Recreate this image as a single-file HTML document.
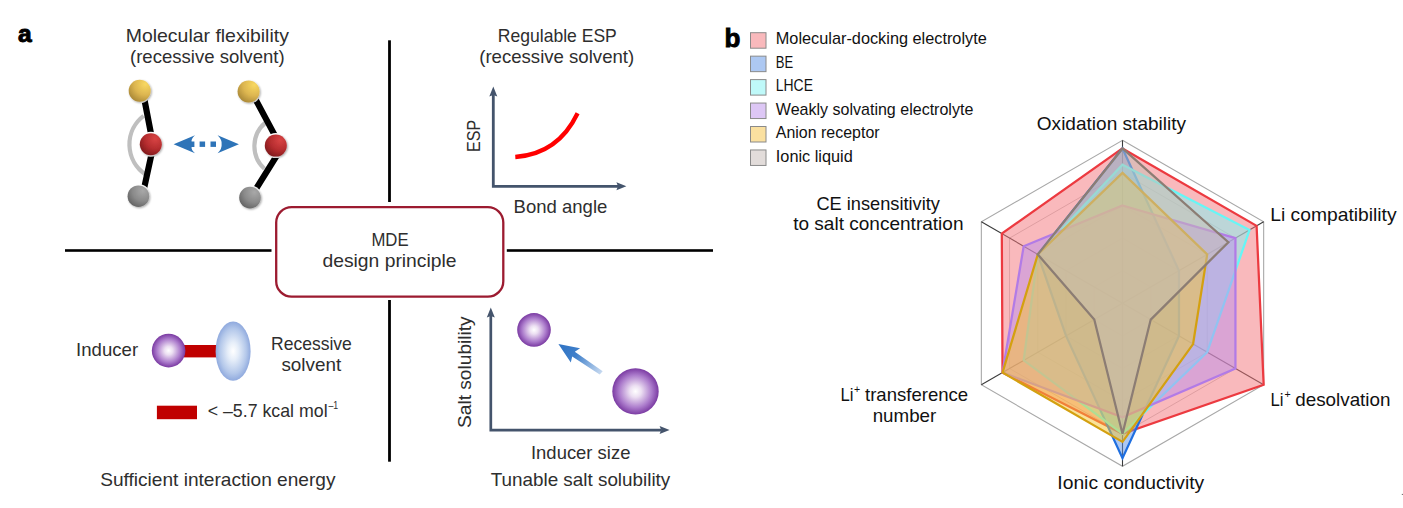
<!DOCTYPE html>
<html><head><meta charset="utf-8"><style>
html,body{margin:0;padding:0;background:#fff;}
svg{display:block;font-family:"Liberation Sans",Arial,sans-serif;}
</style></head><body>
<svg width="1403" height="508" viewBox="0 0 1403 508">
<rect width="1403" height="508" fill="#fff"/>
<defs>
<radialGradient id="gY" cx="0.75" cy="0.2" r="1.0" fx="0.75" fy="0.2"><stop offset="0" stop-color="#f8d860"/><stop offset="0.5" stop-color="#dcb550"/><stop offset="1" stop-color="#9c7c30"/></radialGradient>
<radialGradient id="gR" cx="0.7" cy="0.25" r="0.95" fx="0.7" fy="0.25"><stop offset="0" stop-color="#d84444"/><stop offset="0.5" stop-color="#b42c2e"/><stop offset="1" stop-color="#6c1416"/></radialGradient>
<radialGradient id="gG" cx="0.7" cy="0.25" r="0.95" fx="0.7" fy="0.25"><stop offset="0" stop-color="#a8a8a8"/><stop offset="0.5" stop-color="#8a8a8a"/><stop offset="1" stop-color="#555"/></radialGradient>
<radialGradient id="gP" cx="0.5" cy="0.5" r="0.5"><stop offset="0" stop-color="#ffffff"/><stop offset="0.25" stop-color="#ecdff2"/><stop offset="0.7" stop-color="#ac7ccc"/><stop offset="1" stop-color="#7a3aa2"/></radialGradient>
<radialGradient id="gB" cx="0.5" cy="0.5" r="0.5"><stop offset="0" stop-color="#ffffff"/><stop offset="0.3" stop-color="#e6eef9"/><stop offset="0.75" stop-color="#b4c8ea"/><stop offset="1" stop-color="#90aade"/></radialGradient>
<linearGradient id="gA" x1="601.2" y1="373" x2="560" y2="345" gradientUnits="userSpaceOnUse"><stop offset="0" stop-color="#c6d9f0"/><stop offset="0.62" stop-color="#3f7fca"/><stop offset="1" stop-color="#3074c4"/></linearGradient>
<filter id="sh" x="-30%" y="-30%" width="160%" height="160%"><feGaussianBlur in="SourceAlpha" stdDeviation="1.2"/><feOffset dx="0.6" dy="1"/><feComponentTransfer><feFuncA type="linear" slope="0.35"/></feComponentTransfer><feMerge><feMergeNode/><feMergeNode in="SourceGraphic"/></feMerge></filter>
</defs>
<g fill="#000">
<rect x="65" y="249.2" width="206.5" height="2.6"/>
<rect x="506.8" y="249.2" width="206.2" height="2.6"/>
<rect x="388.1" y="40.3" width="2.8" height="161.7"/>
<rect x="388.1" y="300" width="2.8" height="161.7"/>
</g>
<rect x="276.2" y="207.1" width="227.1" height="89.6" rx="15.5" ry="15.5" fill="#fff" stroke="#9c1b30" stroke-width="2.3"/>
<text x="17.9" y="42.3" font-size="24.5" fill="#000" font-weight="bold" text-anchor="start" stroke="#000" stroke-width="1">a</text>
<text x="125.7" y="42.35" font-size="18.2" fill="#2e2e2e" font-weight="normal" text-anchor="start" textLength="163.2" lengthAdjust="spacingAndGlyphs" >Molecular flexibility</text>
<text x="130.0" y="62.65" font-size="18.2" fill="#2e2e2e" font-weight="normal" text-anchor="start" textLength="154.6" lengthAdjust="spacingAndGlyphs" >(recessive solvent)</text>
<text x="497.8" y="42.35" font-size="18.2" fill="#2e2e2e" font-weight="normal" text-anchor="start" textLength="119" lengthAdjust="spacingAndGlyphs" >Regulable ESP</text>
<text x="479.2" y="62.65" font-size="18.2" fill="#2e2e2e" font-weight="normal" text-anchor="start" textLength="155" lengthAdjust="spacingAndGlyphs" >(recessive solvent)</text>
<path d="M143.6,115.8 A36 36 0 0 0 145.2,174.2" fill="none" stroke="#bfbfbf" stroke-width="4.2"/>
<path d="M142.7,90.7 L153,144.2 M153.7,144.2 L142.4,196.2" fill="none" stroke="#000" stroke-width="6.2"/>
<circle cx="139.7" cy="90.7" r="12.5" fill="#fff"/>
<circle cx="139.7" cy="90.7" r="11" fill="url(#gY)" filter="url(#sh)"/>
<circle cx="150.8" cy="144.2" r="12.5" fill="#fff"/>
<circle cx="150.8" cy="144.2" r="11" fill="url(#gR)" filter="url(#sh)"/>
<circle cx="138.4" cy="196.2" r="12.3" fill="#fff"/>
<circle cx="138.4" cy="196.2" r="10.8" fill="url(#gG)" filter="url(#sh)"/>
<path d="M265.6,122.5 A30.5 30.5 0 0 0 264.4,168.7" fill="none" stroke="#bfbfbf" stroke-width="4.2"/>
<path d="M251.3,91.5 L280.3,145.6 M283,145.6 L250.6,197.6" fill="none" stroke="#000" stroke-width="6.2"/>
<circle cx="248.6" cy="91.5" r="12.5" fill="#fff"/>
<circle cx="248.6" cy="91.5" r="11" fill="url(#gY)" filter="url(#sh)"/>
<circle cx="275.8" cy="145.6" r="12.5" fill="#fff"/>
<circle cx="275.8" cy="145.6" r="11" fill="url(#gR)" filter="url(#sh)"/>
<circle cx="250" cy="197.6" r="12.3" fill="#fff"/>
<circle cx="250" cy="197.6" r="10.8" fill="url(#gG)" filter="url(#sh)"/>
<g fill="#2e74b8">
<path d="M173.6,144.2 L195,135.2 Q191,139 191.6,141.5 L194.4,141.5 L194.4,146.9 L191.6,146.9 Q191,149.5 195,153.2 Z"/>
<rect x="199.6" y="141.5" width="5.5" height="5.4"/><rect x="210.5" y="141.5" width="5.5" height="5.4"/>
<path d="M238.9,144.2 L217.6,135.2 Q222.3,140 221.6,144.2 Q222.3,148.4 217.6,153.2 Z"/>
</g>
<path d="M493.3,95 L493.3,186.3 L618,186.3" fill="none" stroke="#44546c" stroke-width="2.8"/>
<path d="M493.3,86.5 L497.3,96.5 L493.3,95 L489.3,96.5 Z" fill="#44546c"/>
<path d="M626.4,186.3 L616.4,182.3 L618,186.3 L616.4,190.3 Z" fill="#44546c"/>
<path d="M515.3,157 Q558,154.1 577.6,113.3" fill="none" stroke="#f00" stroke-width="4.3"/>
<text x="0" y="0" font-size="18.2" fill="#2e2e2e" font-weight="normal" text-anchor="start" textLength="32" lengthAdjust="spacingAndGlyphs" transform="translate(479.7,151.9) rotate(-90)">ESP</text>
<text x="513.6" y="212.65" font-size="18.2" fill="#2e2e2e" font-weight="normal" text-anchor="start" textLength="93.7" lengthAdjust="spacingAndGlyphs" >Bond angle</text>
<text x="390" y="245.85" font-size="18.2" fill="#2e2e2e" font-weight="normal" text-anchor="middle" textLength="37.2" lengthAdjust="spacingAndGlyphs" >MDE</text>
<text x="322.5" y="267.45" font-size="18.2" fill="#2e2e2e" font-weight="normal" text-anchor="start" textLength="134" lengthAdjust="spacingAndGlyphs" >design principle</text>
<text x="76.1" y="356.35" font-size="18.2" fill="#2e2e2e" font-weight="normal" text-anchor="start" textLength="62" lengthAdjust="spacingAndGlyphs" >Inducer</text>
<rect x="184" y="345" width="33" height="12.4" fill="#c00000"/>
<circle cx="168.6" cy="350.6" r="16.8" fill="url(#gP)"/>
<ellipse cx="233.1" cy="351.2" rx="17.5" ry="29.6" fill="url(#gB)"/>
<text x="271" y="350.05" font-size="18.2" fill="#2e2e2e" font-weight="normal" text-anchor="start" textLength="80.8" lengthAdjust="spacingAndGlyphs" >Recessive</text>
<text x="281.4" y="370.55" font-size="18.2" fill="#2e2e2e" font-weight="normal" text-anchor="start" textLength="59.8" lengthAdjust="spacingAndGlyphs" >solvent</text>
<rect x="156.9" y="405.7" width="40.1" height="13.5" fill="#c00000"/>
<text x="207.7" y="417.25" font-size="18.2" fill="#2e2e2e" font-weight="normal" text-anchor="start" textLength="119.9" lengthAdjust="spacingAndGlyphs" >&lt; –5.7 kcal mol</text>
<text x="328.4" y="409.4" font-size="11" fill="#2e2e2e" font-weight="normal" text-anchor="start" textLength="9.8" lengthAdjust="spacingAndGlyphs" >–1</text>
<text x="100.2" y="485.85" font-size="18.2" fill="#2e2e2e" font-weight="normal" text-anchor="start" textLength="235.3" lengthAdjust="spacingAndGlyphs" >Sufficient interaction energy</text>
<path d="M490.8,316 L490.8,430.1 L661,430.1" fill="none" stroke="#44546c" stroke-width="2.7"/>
<path d="M490.8,307.5 L494.8,317.5 L490.8,316 L486.8,317.5 Z" fill="#44546c"/>
<path d="M669.6,430.1 L659.6,426.1 L661.2,430.1 L659.6,434.1 Z" fill="#44546c"/>
<text x="0" y="0" font-size="18.2" fill="#2e2e2e" font-weight="normal" text-anchor="start" textLength="111.7" lengthAdjust="spacingAndGlyphs" transform="translate(471.1,428) rotate(-90)">Salt solubility</text>
<circle cx="534" cy="329.9" r="16.8" fill="url(#gP)"/>
<circle cx="635.5" cy="391.4" r="23.2" fill="url(#gP)"/>
<path d="M558.4,343.9 L580.1,348.3 L574.8,351.7 L602.7,371.2 L599.7,374.6 L572.2,356.6 L570.8,362.5 Z" fill="url(#gA)"/>
<text x="531" y="458.85" font-size="18.2" fill="#2e2e2e" font-weight="normal" text-anchor="start" textLength="99.4" lengthAdjust="spacingAndGlyphs" >Inducer size</text>
<text x="490.7" y="485.85" font-size="18.2" fill="#2e2e2e" font-weight="normal" text-anchor="start" textLength="179.6" lengthAdjust="spacingAndGlyphs" >Tunable salt solubility</text>
<rect x="1401.8" y="493.9" width="1.2" height="1.1" fill="#777"/>
<text x="724.4" y="46.9" font-size="26" fill="#000" font-weight="bold" text-anchor="start" stroke="#000" stroke-width="0.9">b</text>
<rect x="750.5" y="32.70" width="15.5" height="15.5" fill="#f9b9bc" stroke="#8a8a8a" stroke-width="1"/>
<text x="775.8" y="44.3" font-size="16.2" fill="#111" font-weight="normal" text-anchor="start" textLength="211" lengthAdjust="spacingAndGlyphs" >Molecular-docking electrolyte</text>
<rect x="750.5" y="56.15" width="15.5" height="15.5" fill="#adc8f2" stroke="#8a8a8a" stroke-width="1"/>
<text x="775.8" y="67.75" font-size="16.2" fill="#111" font-weight="normal" text-anchor="start" textLength="17.4" lengthAdjust="spacingAndGlyphs" >BE</text>
<rect x="750.5" y="79.60" width="15.5" height="15.5" fill="#bff9f9" stroke="#8a8a8a" stroke-width="1"/>
<text x="775.8" y="91.2" font-size="16.2" fill="#111" font-weight="normal" text-anchor="start" textLength="37.2" lengthAdjust="spacingAndGlyphs" >LHCE</text>
<rect x="750.5" y="103.05" width="15.5" height="15.5" fill="#ddc7f5" stroke="#8a8a8a" stroke-width="1"/>
<text x="775.8" y="114.65" font-size="16.2" fill="#111" font-weight="normal" text-anchor="start" textLength="197.5" lengthAdjust="spacingAndGlyphs" >Weakly solvating electrolyte</text>
<rect x="750.5" y="126.50" width="15.5" height="15.5" fill="#fae0a0" stroke="#8a8a8a" stroke-width="1"/>
<text x="775.8" y="138.1" font-size="16.2" fill="#111" font-weight="normal" text-anchor="start" textLength="103.8" lengthAdjust="spacingAndGlyphs" >Anion receptor</text>
<rect x="750.5" y="149.95" width="15.5" height="15.5" fill="#e2dcda" stroke="#8a8a8a" stroke-width="1"/>
<text x="775.8" y="161.55" font-size="16.2" fill="#111" font-weight="normal" text-anchor="start" textLength="77" lengthAdjust="spacingAndGlyphs" >Ionic liquid</text>
<polygon points="1122.50,270.70 1150.73,287.00 1150.73,319.60 1122.50,335.90 1094.27,319.60 1094.27,287.00" fill="none" stroke="#c9c9c9" stroke-width="1"/>
<polygon points="1122.50,238.10 1178.96,270.70 1178.96,335.90 1122.50,368.50 1066.04,335.90 1066.04,270.70" fill="none" stroke="#c9c9c9" stroke-width="1"/>
<polygon points="1122.50,205.50 1207.20,254.40 1207.20,352.20 1122.50,401.10 1037.80,352.20 1037.80,254.40" fill="none" stroke="#c9c9c9" stroke-width="1"/>
<polygon points="1122.50,172.90 1235.43,238.10 1235.43,368.50 1122.50,433.70 1009.57,368.50 1009.57,238.10" fill="none" stroke="#c9c9c9" stroke-width="1"/>
<polygon points="1122.50,140.30 1263.66,221.80 1263.66,384.80 1122.50,466.30 981.34,384.80 981.34,221.80" fill="none" stroke="#a8a8a8" stroke-width="1.1"/>
<line x1="1122.5" y1="303.3" x2="1122.50" y2="140.30" stroke="#3a3a3a" stroke-width="1.1"/>
<line x1="1122.5" y1="303.3" x2="1263.66" y2="221.80" stroke="#3a3a3a" stroke-width="1.1"/>
<line x1="1122.5" y1="303.3" x2="1263.66" y2="384.80" stroke="#3a3a3a" stroke-width="1.1"/>
<line x1="1122.5" y1="303.3" x2="1122.50" y2="466.30" stroke="#3a3a3a" stroke-width="1.1"/>
<line x1="1122.5" y1="303.3" x2="981.34" y2="384.80" stroke="#3a3a3a" stroke-width="1.1"/>
<line x1="1122.5" y1="303.3" x2="981.34" y2="221.80" stroke="#3a3a3a" stroke-width="1.1"/>
<polygon points="1122.50,148.45 1256.60,225.88 1263.66,384.80 1122.50,433.70 1002.51,372.57 1001.81,233.62" fill="rgb(243,115,121)" fill-opacity="0.5" stroke="#ec3a40" stroke-width="2.25" stroke-linejoin="miter"/>
<polygon points="1122.50,148.45 1178.96,270.70 1178.96,335.90 1122.50,458.15 1066.04,335.90 1037.80,254.40" fill="rgb(91,145,229)" fill-opacity="0.5" stroke="#1f6fe0" stroke-width="2.25" stroke-linejoin="miter"/>
<polygon points="1122.50,164.75 1249.55,229.95 1207.20,352.20 1122.50,433.70 1023.69,360.35 1037.80,254.40" fill="rgb(127,243,243)" fill-opacity="0.5" stroke="#66f6f6" stroke-width="2.25" stroke-linejoin="miter"/>
<polygon points="1122.50,205.50 1235.43,238.10 1235.43,368.50 1122.50,417.40 1002.51,372.57 1023.69,246.25" fill="rgb(187,143,235)" fill-opacity="0.5" stroke="#b27be6" stroke-width="2.25" stroke-linejoin="miter"/>
<polygon points="1122.50,172.90 1207.20,254.40 1193.08,344.05 1122.50,441.85 1002.51,372.57 1037.80,254.40" fill="rgb(246,198,50)" fill-opacity="0.5" stroke="#d4a010" stroke-width="2.25" stroke-linejoin="miter"/>
<polygon points="1122.50,148.45 1228.37,242.18 1150.73,319.60 1122.50,433.70 1094.27,319.60 1037.80,254.40" fill="rgb(200,190,178)" fill-opacity="0.5" stroke="#8c7d74" stroke-width="2.25" stroke-linejoin="miter"/>
<text x="1036.8" y="130.2" font-size="18.2" fill="#111" font-weight="normal" text-anchor="start" textLength="149.3" lengthAdjust="spacingAndGlyphs" >Oxidation stability</text>
<text x="1270.2" y="221.2" font-size="18.2" fill="#111" font-weight="normal" text-anchor="start" textLength="126.4" lengthAdjust="spacingAndGlyphs" >Li compatibility</text>
<text x="1270.4" y="405.5" font-size="18.2" fill="#111" font-weight="normal" text-anchor="start" textLength="13.0" lengthAdjust="spacingAndGlyphs" >Li</text>
<text x="1284.6" y="397.7" font-size="11" fill="#111" font-weight="normal" text-anchor="start" textLength="6.2" lengthAdjust="spacingAndGlyphs" >+</text>
<text x="1295.2" y="405.5" font-size="18.2" fill="#111" font-weight="normal" text-anchor="start" textLength="95.3" lengthAdjust="spacingAndGlyphs" >desolvation</text>
<text x="1057.3" y="489.0" font-size="18.2" fill="#111" font-weight="normal" text-anchor="start" textLength="146.9" lengthAdjust="spacingAndGlyphs" >Ionic conductivity</text>
<text x="840.5" y="400.6" font-size="18.2" fill="#111" font-weight="normal" text-anchor="start" textLength="13.0" lengthAdjust="spacingAndGlyphs" >Li</text>
<text x="853.9" y="392.8" font-size="11" fill="#111" font-weight="normal" text-anchor="start" textLength="6.2" lengthAdjust="spacingAndGlyphs" >+</text>
<text x="865.0" y="400.6" font-size="18.2" fill="#111" font-weight="normal" text-anchor="start" textLength="103.2" lengthAdjust="spacingAndGlyphs" >transference</text>
<text x="872.7" y="421.7" font-size="18.2" fill="#111" font-weight="normal" text-anchor="start" textLength="63.6" lengthAdjust="spacingAndGlyphs" >number</text>
<text x="816.4" y="210.2" font-size="18.2" fill="#111" font-weight="normal" text-anchor="start" textLength="123.5" lengthAdjust="spacingAndGlyphs" >CE insensitivity</text>
<text x="793.2" y="230.4" font-size="18.2" fill="#111" font-weight="normal" text-anchor="start" textLength="170.3" lengthAdjust="spacingAndGlyphs" >to salt concentration</text>
</svg>
</body></html>
